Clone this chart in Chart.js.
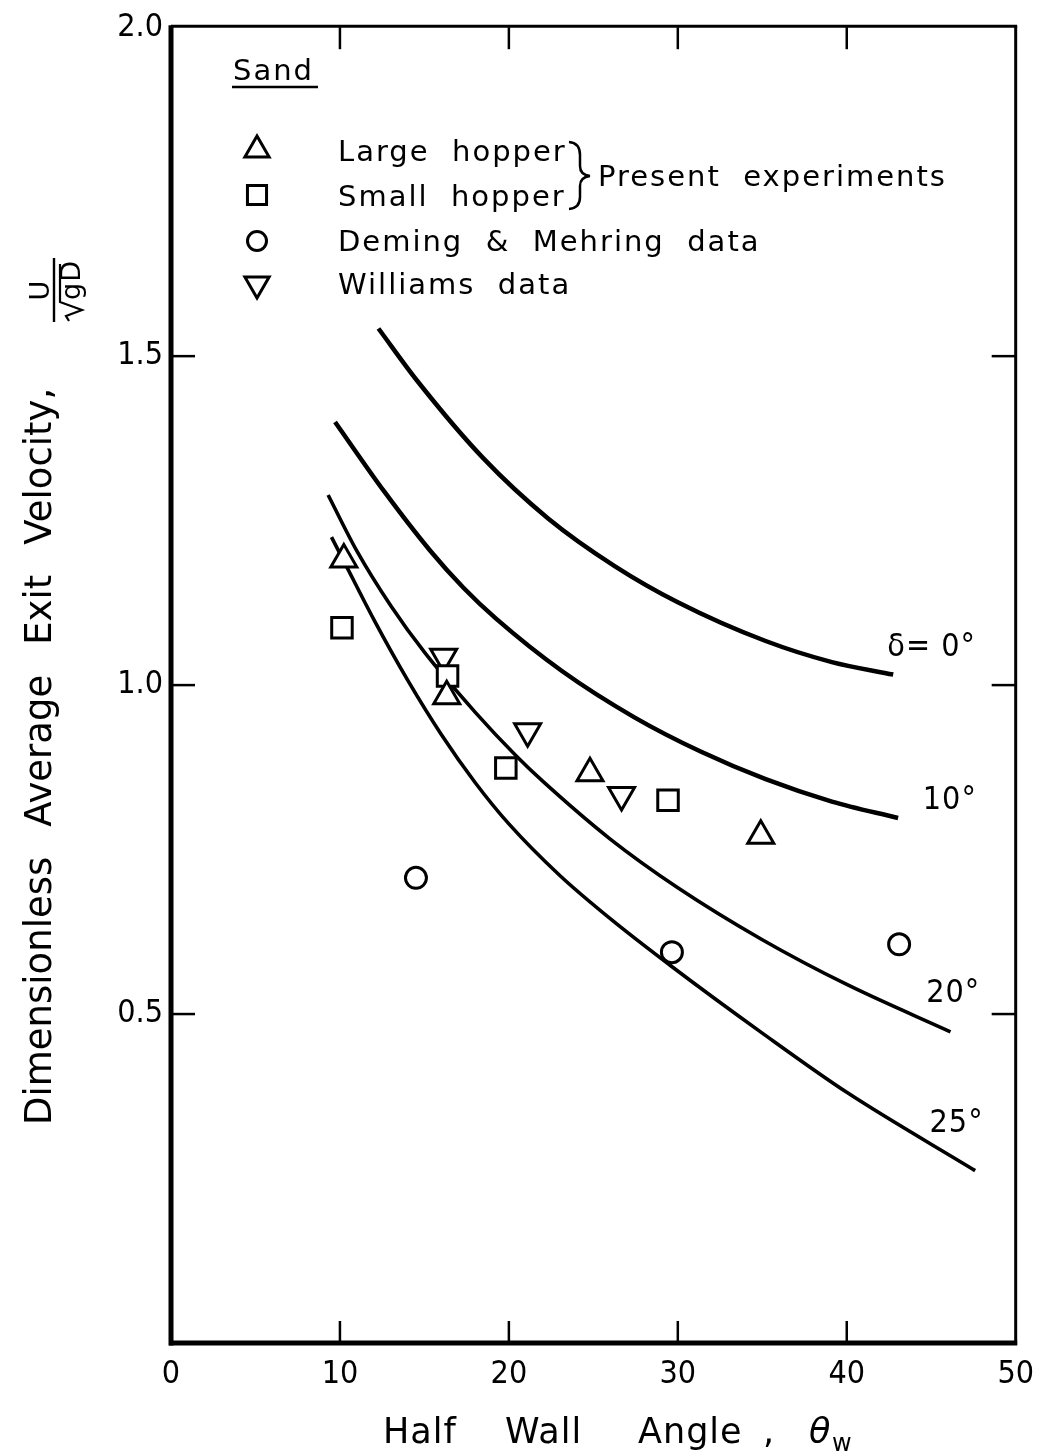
<!DOCTYPE html>
<html>
<head>
<meta charset="utf-8">
<script src="https://cdn.jsdelivr.net/npm/chart.js@4.4.1/dist/chart.umd.min.js"></script>
<style>
html,body{margin:0;padding:0;background:#fff;}
#wrap{width:1046px;height:1453px;position:relative;}
</style>
</head>
<body>
<div id="wrap"><canvas id="c"></canvas></div>
<script>
// ---- tick labels ----
const xTickValues = [0, 10, 20, 30, 40, 50];
const xTickLabels = ['0', '10', '20', '30', '40', '50'];
const yTickValues = [0.5, 1.0, 1.5, 2.0];
const yTickLabels = ['0.5', '1.0', '1.5', '2.0'];

// ---- theory curves (delta = wall friction angle) ----
const curveNames = ['δ= 0°', '10°', '20°', '25°'];
const d0X  = [12.28, 14.56, 18.48, 22.34, 26.26, 30.0, 35.2, 39.12, 42.75];
const d0Y  = [1.542, 1.463, 1.345, 1.253, 1.181, 1.126, 1.067, 1.035, 1.016];
const d10X = [9.71, 12.63, 15.32, 17.31, 19.24, 23.16, 27.43, 31.35, 35.2, 39.12, 43.04];
const d10Y = [1.400, 1.294, 1.205, 1.148, 1.101, 1.021, 0.951, 0.899, 0.857, 0.823, 0.798];
const d20X = [9.3, 11.0, 13.0, 15.0, 18.0, 20.41, 22.0, 26.0, 30.0, 35.0, 40.0, 46.14];
const d20Y = [1.289, 1.204, 1.121, 1.050, 0.959, 0.893, 0.854, 0.766, 0.692, 0.613, 0.545, 0.473];
const d25X = [9.5, 10.2, 12.0, 14.0, 16.0, 18.0, 20.0, 23.0, 26.0, 29.6, 35.0, 40.0, 47.6];
const d25Y = [1.225, 1.190, 1.100, 1.008, 0.925, 0.852, 0.789, 0.711, 0.645, 0.573, 0.471, 0.381, 0.262];

// ---- experimental data ----
const largeX    = [10.23, 16.32, 24.80, 34.91];
const largeY    = [1.191, 0.983, 0.866, 0.771];
const smallX    = [10.12, 16.37, 19.82, 29.42];
const smallY    = [1.087, 1.014, 0.874, 0.825];
const demingX   = [14.50, 29.65, 43.10];
const demingY   = [0.707, 0.594, 0.606];
const williamsX = [16.14, 21.11, 26.67];
const williamsY = [1.043, 0.930, 0.833];

const seriesNames = ['Large  hopper', 'Small  hopper', 'Deming  &  Mehring  data', 'Williams  data'];

const FONT = "'DejaVu Sans', sans-serif";
const NARROW = "'DejaVu Sans Condensed', 'DejaVu Sans', sans-serif";

const zip = (xs, ys) => xs.map((v, i) => ({x: v, y: ys[i]}));

const markerStyles = [
  {pointStyle: 'triangle', radius: 15, rotation: 0},
  {pointStyle: 'rect', radius: 14.5, rotation: 0},
  {pointStyle: 'circle', radius: 10.5, rotation: 0},
  {pointStyle: 'triangle', radius: 15, rotation: 180}
];

function pointDs(label, xs, ys, st) {
  return {
    label, data: zip(xs, ys), showLine: false,
    pointStyle: st.pointStyle, pointRadius: st.radius, pointRotation: st.rotation,
    pointBorderWidth: 3, pointBorderColor: '#000', pointBackgroundColor: '#fff'
  };
}
function curveDs(label, xs, ys, w) {
  return {
    label, data: zip(xs, ys), showLine: true, borderColor: '#000', borderWidth: w,
    pointRadius: 0, cubicInterpolationMode: 'monotone', fill: false
  };
}

function setLS(ctx, v) { if ('letterSpacing' in ctx) ctx.letterSpacing = v; }

const annot = {
  id: 'annot',
  afterDraw(chart) {
    const {ctx, chartArea: a, scales: {x, y}} = chart;
    ctx.save();
    ctx.strokeStyle = '#000';
    ctx.fillStyle = '#000';
    ctx.lineCap = 'butt';
    const seg = (x1, y1, x2, y2, w) => { ctx.lineWidth = w; ctx.beginPath(); ctx.moveTo(x1, y1); ctx.lineTo(x2, y2); ctx.stroke(); };
    // frame
    seg(a.left, a.top - 1, a.right + 1.5, a.top - 1, 3);
    seg(a.right, a.top - 1, a.right, a.bottom + 2, 3);
    seg(a.left, a.top - 2, a.left, a.bottom + 2.5, 5);
    seg(a.left - 2, a.bottom, a.right + 1.5, a.bottom, 5);
    // inner ticks
    xTickValues.slice(1, -1).forEach(v => {
      const px = x.getPixelForValue(v);
      seg(px, a.bottom, px, a.bottom - 22, 2.5);
      seg(px, a.top, px, a.top + 22, 2.5);
    });
    yTickValues.slice(0, -1).forEach(v => {
      const py = y.getPixelForValue(v);
      seg(a.left, py, a.left + 24, py, 2.5);
      seg(a.right, py, a.right - 24, py, 2.5);
    });

    // legend
    ctx.textAlign = 'left';
    ctx.textBaseline = 'alphabetic';
    ctx.font = '29px ' + FONT;
    setLS(ctx, '2px');
    ctx.fillText('Sand', 233, 80);
    seg(232, 87, 318, 87, 2.5);
    const rowsY = [150, 195, 241, 284];
    const baseY = [161, 206, 251, 294];
    markerStyles.forEach((st, i) => {
      ctx.lineWidth = 3; ctx.strokeStyle = '#000'; ctx.fillStyle = '#fff';
      Chart.helpers.drawPoint(ctx, {pointStyle: st.pointStyle, radius: st.radius - 1, rotation: st.rotation, borderWidth: 3}, 257, rowsY[i]);
      ctx.fillStyle = '#000';
      ctx.fillText(seriesNames[i], 338, baseY[i]);
    });
    // brace
    ctx.lineWidth = 2.5;
    ctx.beginPath();
    ctx.moveTo(569, 142);
    ctx.quadraticCurveTo(580, 143, 580, 155);
    ctx.lineTo(580, 166);
    ctx.quadraticCurveTo(580, 175, 590, 176);
    ctx.quadraticCurveTo(580, 177, 580, 186);
    ctx.lineTo(580, 197);
    ctx.quadraticCurveTo(580, 208, 569, 209);
    ctx.stroke();
    ctx.fillText('Present  experiments', 598, 186);

    // curve labels
    ctx.font = '32px ' + NARROW;
    setLS(ctx, '1px');
    const labPos = [[42.4, 1.044], [44.5, 0.811], [44.7, 0.518], [44.9, 0.320]];
    curveNames.forEach((t, i) => {
      ctx.fillText(t, x.getPixelForValue(labPos[i][0]), y.getPixelForValue(labPos[i][1]));
    });

    // x title
    ctx.font = '35px ' + FONT;
    setLS(ctx, '1px');
    ctx.fillText('Half', 383, 1443);
    ctx.fillText('Wall', 505, 1443);
    ctx.fillText('Angle', 638, 1443);
    ctx.fillText(',', 763, 1443);
    ctx.font = 'italic 35px ' + FONT;
    ctx.fillText('θ', 809, 1443);
    ctx.font = '24px ' + FONT;
    ctx.fillText('w', 832, 1451);

    // y title (rotated)
    ctx.save();
    ctx.translate(51, 0);
    ctx.rotate(-Math.PI / 2);
    ctx.font = '37px ' + FONT;
    setLS(ctx, '0px');
    const words = ['Dimensionless', 'Average', 'Exit', 'Velocity,'];
    let u = -1125;
    words.forEach(w => {
      ctx.fillText(w, u, 0);
      u += ctx.measureText(w).width + 30;
    });
    ctx.restore();
    // fraction U / sqrt(gD)
    ctx.save();
    ctx.translate(58, 290);
    ctx.rotate(-Math.PI / 2);
    ctx.textAlign = 'center';
    ctx.font = '27px ' + FONT;
    ctx.fillText('U', 0, -9);
    seg(-32, -4, 32, -4, 2.4);
    ctx.textAlign = 'left';
    ctx.fillText('gD', -10, 22);
    ctx.lineWidth = 2.2;
    ctx.beginPath();
    ctx.moveTo(-31, 11);
    ctx.lineTo(-26, 8);
    ctx.lineTo(-20, 24);
    ctx.lineTo(-12, 2);
    ctx.lineTo(26, 2);
    ctx.stroke();
    ctx.restore();

    ctx.restore();
  }
};

new Chart(document.getElementById('c'), {
  type: 'scatter',
  data: {
    datasets: [
      pointDs(seriesNames[0], largeX, largeY, markerStyles[0]),
      pointDs(seriesNames[1], smallX, smallY, markerStyles[1]),
      pointDs(seriesNames[2], demingX, demingY, markerStyles[2]),
      pointDs(seriesNames[3], williamsX, williamsY, markerStyles[3]),
      curveDs(curveNames[0], d0X, d0Y, 4.5),
      curveDs(curveNames[1], d10X, d10Y, 4.5),
      curveDs(curveNames[2], d20X, d20Y, 3.6),
      curveDs(curveNames[3], d25X, d25Y, 3.6)
    ]
  },
  options: {
    responsive: true,
    maintainAspectRatio: false,
    animation: false,
    layout: {padding: {top: 20, right: 20, left: 0, bottom: 0}},
    plugins: {legend: {display: false}, tooltip: {enabled: false}},
    scales: {
      x: {
        type: 'linear', min: 0, max: 50,
        afterBuildTicks: s => { s.ticks = xTickValues.map(v => ({value: v})); },
        afterFit: s => { s.height = 110; },
        grid: {display: false, drawTicks: false},
        border: {display: false},
        ticks: {
          color: '#000', font: {family: NARROW, size: 32}, padding: 12,
          maxRotation: 0, autoSkip: false,
          callback: (v, i) => xTickLabels[i]
        }
      },
      y: {
        type: 'linear', min: 0, max: 2,
        afterBuildTicks: s => { s.ticks = yTickValues.map(v => ({value: v})); },
        afterFit: s => { s.width = 171; },
        grid: {display: false, drawTicks: false},
        border: {display: false},
        ticks: {
          color: '#000', font: {family: NARROW, size: 32}, padding: 8,
          autoSkip: false,
          callback: (v, i) => yTickLabels[i]
        }
      }
    }
  },
  plugins: [annot]
});
</script>
</body>
</html>
